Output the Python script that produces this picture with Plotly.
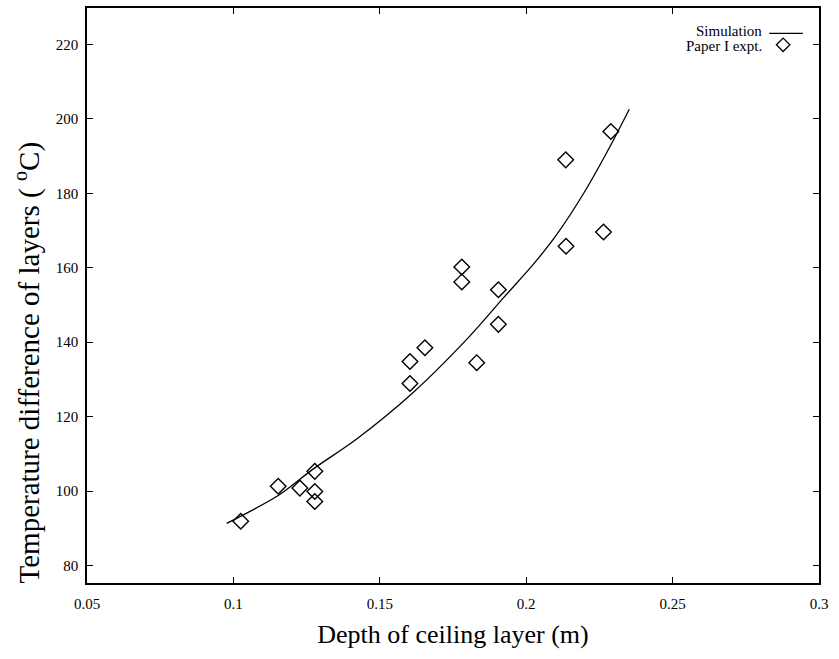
import plotly.graph_objects as go

# Experimental points (Paper I expt.)
expt_depth = [0.1025, 0.1153, 0.1227, 0.1278, 0.1278, 0.1278,
              0.1603, 0.1603, 0.1654, 0.1780, 0.1780, 0.1831,
              0.1905, 0.1905, 0.2135, 0.2136, 0.2264, 0.2289]
expt_temp = [91.9, 101.3, 100.8, 105.3, 99.9, 97.2,
             134.8, 128.9, 138.5, 160.2, 156.2, 134.5,
             154.1, 144.8, 189.0, 165.8, 169.6, 196.6]

# Simulation curve
sim_depth = [0.0977, 0.1153, 0.1272, 0.1421, 0.1614, 0.1808,
             0.1922, 0.2024, 0.2104, 0.2200, 0.2289, 0.2352]
sim_temp = [91.3, 98.8, 105.9, 114.0, 126.5, 141.7,
            151.9, 160.9, 168.9, 180.5, 193.0, 202.6]

x_ticks = [0.05, 0.1, 0.15, 0.2, 0.25, 0.3]
x_tick_labels = ["0.05", "0.1", "0.15", "0.2", "0.25", "0.3"]
y_ticks = [80, 100, 120, 140, 160, 180, 200, 220]

FONT = "Liberation Serif, Times New Roman, serif"

fig = go.Figure()
fig.add_trace(go.Scatter(
    x=sim_depth, y=sim_temp, mode="lines", name="Simulation",
    line=dict(color="black", width=1.3, shape="spline", smoothing=0.8),
    showlegend=False))
fig.add_trace(go.Scatter(
    x=expt_depth, y=expt_temp, mode="markers", name="Paper I expt.",
    marker=dict(symbol="diamond-open", size=12, color="black",
                line=dict(width=1.4, color="black")),
    showlegend=False))

axis_common = dict(showline=True, linecolor="black", linewidth=1.5,
                   mirror="ticks", ticks="inside", ticklen=6, tickwidth=1.2,
                   tickcolor="black", showgrid=False, zeroline=False,
                   tickfont=dict(family=FONT, size=15, color="black"))

fig.update_xaxes(range=[0.05, 0.3], tickvals=x_ticks, ticktext=x_tick_labels,
                 ticklabelstandoff=6,
                 title=dict(text="Depth of ceiling layer (m)",
                            font=dict(family=FONT, size=26, color="black"),
                            standoff=14),
                 **axis_common)
fig.update_yaxes(range=[75.3, 229.8], tickvals=y_ticks,
                 ticklabelstandoff=4,
                 **axis_common)

# Y-axis title (placed as in the original scan)
fig.add_annotation(xref="paper", yref="paper", x=-0.081, y=0.383,
                   text="Temperature difference of layers ( <sup>o</sup>C)",
                   textangle=-90, showarrow=False,
                   xanchor="center", yanchor="middle",
                   font=dict(family=FONT, size=29, color="black"))

# Legend drawn with text on the left and sample on the right, as in the original
fig.add_annotation(xref="paper", yref="paper", x=0.925, y=0.960,
                   text="Simulation", showarrow=False, xanchor="right",
                   yanchor="middle",
                   font=dict(family=FONT, size=15, color="black"))
fig.add_annotation(xref="paper", yref="paper", x=0.925, y=0.934,
                   text="Paper I expt.", showarrow=False, xanchor="right",
                   yanchor="middle",
                   font=dict(family=FONT, size=15, color="black"))
fig.add_shape(type="line", xref="paper", yref="paper",
              x0=0.932, x1=0.978, y0=0.956, y1=0.956,
              line=dict(color="black", width=1.2))
cx, cy, dx, dy = 0.951, 0.936, 0.0092, 0.0117
fig.add_shape(type="path", xref="paper", yref="paper",
              path=f"M {cx-dx},{cy} L {cx},{cy+dy} L {cx+dx},{cy} L {cx},{cy-dy} Z",
              line=dict(color="black", width=1.3))

fig.update_layout(width=839, height=659,
                  margin=dict(l=87, r=20, t=6, b=76),
                  paper_bgcolor="white", plot_bgcolor="white",
                  font=dict(family=FONT, color="black"))

fig.write_html("out.html")
